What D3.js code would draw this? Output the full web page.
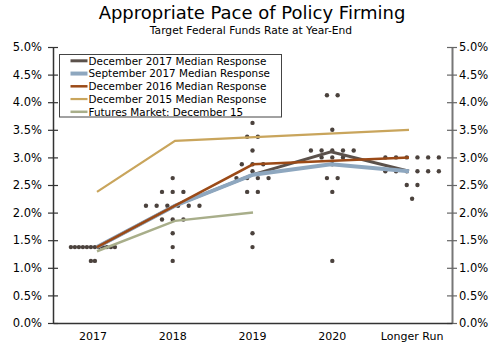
<!DOCTYPE html>
<html>
<head>
<meta charset="utf-8">
<script src="https://cdn.jsdelivr.net/npm/d3@7"></script>
<style>
    body { margin: 0; background: #fff; }
    #chart { width: 500px; height: 351px; }
    text { font-family: "DejaVu Sans", Verdana, sans-serif; fill: #000; }
</style>
</head>
<body>
<div id="chart"></div>
<script>
const categories = ["2017", "2018", "2019", "2020", "Longer Run"];

// medians by year, null where the projection has no point
const dec2017Median = [1.375, 2.125, 2.6875, 3.1, 2.75];
const sep2017Median = [1.375, 2.125, 2.6875, 2.875, 2.75];
const dec2016Median = [1.375, 2.125, 2.875, null, 3.0];
const dec2015Median = [2.375, 3.3, null, null, 3.5];
const futuresDec15 = [1.3, 1.85, 2.0, null, null];

// December 2017 dots: [rate, participants]
const dots2017 = [[1.375, 12], [1.125, 2]];
const dots2018 = [[2.625, 1], [2.375, 3], [2.125, 6], [1.875, 3], [1.625, 1], [1.375, 1], [1.125, 1]];
const dots2019 = [[3.625, 1], [3.375, 2], [3.125, 1], [2.875, 3], [2.75, 1], [2.625, 4], [2.375, 2], [1.625, 1], [1.375, 1]];
const dots2020 = [[4.125, 2], [3.5, 1], [3.125, 5], [3.0, 3], [2.875, 1], [2.625, 2], [2.375, 1], [1.125, 1]];
const dotsLongerRun = [[3.0, 6], [2.75, 6], [2.5, 2], [2.25, 1]];

const yTicks = [0, 0.5, 1, 1.5, 2, 2.5, 3, 3.5, 4, 4.5, 5];

class DotPlotChart {

    constructor(parentElement) {
        this.parentElement = parentElement;
        this.initVis();
    }

    initVis() {
        let vis = this;

        vis.margin = {top: 47, right: 48, bottom: 28, left: 53};
        vis.width = 500 - vis.margin.left - vis.margin.right;
        vis.height = 351 - vis.margin.top - vis.margin.bottom;

        vis.svg = d3.select("#" + vis.parentElement)
                    .append("svg")
                    .attr("width", 500)
                    .attr("height", 351);

        vis.svg.append("text")
            .attr("x", 252).attr("y", 19)
            .attr("text-anchor", "middle")
            .style("font-size", "18px")
            .text("Appropriate Pace of Policy Firming");

        vis.svg.append("text")
            .attr("x", 251).attr("y", 34)
            .attr("text-anchor", "middle")
            .style("font-size", "10.7px")
            .text("Target Federal Funds Rate at Year-End");

        vis.g = vis.svg.append("g")
            .attr("transform", `translate(${vis.margin.left}, ${vis.margin.top})`);

        vis.x = d3.scaleBand().domain(categories).range([0, vis.width]);
        // lines sit a bit inside the columns
        vis.xLine = d3.scalePoint().domain(categories).range([44, 356]);
        vis.y = d3.scaleLinear().domain([0, 5]).range([vis.height, 0]);

        vis.series = [
            {name: "December 2017 Median Response", values: dec2017Median, color: "#5b514b", width: 3},
            {name: "September 2017 Median Response", values: sep2017Median, color: "#8ea7bf", width: 4},
            {name: "December 2016 Median Response", values: dec2016Median, color: "#9b4a17", width: 2.5},
            {name: "December 2015 Median Response", values: dec2015Median, color: "#c9a55c", width: 2.2},
            {name: "Futures Market: December 15", values: futuresDec15, color: "#a8ae8a", width: 2.5}
        ];

        vis.dotColumns = [
            {cat: "2017", rows: dots2017, step: 4},
            {cat: "2018", rows: dots2018, step: 10.7},
            {cat: "2019", rows: dots2019, step: 10.7},
            {cat: "2020", rows: dots2020, step: 10.7},
            {cat: "Longer Run", rows: dotsLongerRun, step: 10.7}
        ];

        vis.wrangleData();
    }

    wrangleData() {
        let vis = this;

        vis.dots = [];
        vis.dotColumns.forEach(function(col) {
            col.rows.forEach(function(r) {
                for (let i = 0; i < r[1]; i++) {
                    vis.dots.push({cat: col.cat, rate: r[0], off: (i - (r[1] - 1) / 2) * col.step});
                }
            });
        });

        vis.lineData = vis.series.map(function(s) {
            return {
                s: s,
                pts: categories.map((c, i) => ({cat: c, v: s.values[i]})).filter(d => d.v !== null)
            };
        });

        vis.updateVis();
    }

    updateVis() {
        let vis = this;

        // axes
        let yLeft = d3.axisLeft(vis.y).tickValues(yTicks).tickSizeInner(5).tickSizeOuter(0).tickPadding(6)
            .tickFormat(d => d3.format(".1f")(d) + "%");
        let yRight = d3.axisRight(vis.y).tickValues(yTicks).tickSizeInner(5).tickSizeOuter(0).tickPadding(2)
            .tickFormat(d => d3.format(".1f")(d) + "%");

        let gl = vis.g.append("g").call(yLeft);
        gl.selectAll(".tick line").attr("x1", 5).attr("stroke", "#333").attr("stroke-width", 1.2);
        gl.select(".domain").attr("stroke", "#333").attr("stroke-width", 1.5);
        gl.selectAll("text").style("font-size", "11.5px").attr("fill", "#000");

        let gr = vis.g.append("g").attr("transform", `translate(${vis.width}, 0)`).call(yRight);
        gr.selectAll(".tick line").attr("x1", -5).attr("stroke", "#666").attr("stroke-width", 1.2);
        gr.select(".domain").attr("stroke", "#777").attr("stroke-width", 2);
        gr.selectAll("text").style("font-size", "11.5px").attr("fill", "#000");

        let gx = vis.g.append("g").attr("transform", `translate(0, ${vis.height})`)
            .call(d3.axisBottom(vis.x).tickSize(0).tickPadding(9));
        gx.select(".domain").attr("stroke", "#333").attr("stroke-width", 1.5);
        gx.selectAll("text").style("font-size", "11px").attr("fill", "#000");

        // dots
        vis.g.selectAll(".dot")
            .data(vis.dots)
            .enter()
            .append("circle")
            .attr("class", "dot")
            .attr("cx", d => vis.x(d.cat) + vis.x.bandwidth() / 2 + d.off)
            .attr("cy", d => vis.y(d.rate))
            .attr("r", 2.2)
            .attr("fill", "#4b423d");

        // median lines
        let line = d3.line()
            .x(d => vis.xLine(d.cat))
            .y(d => vis.y(d.v));

        vis.g.selectAll(".median")
            .data(vis.lineData)
            .enter()
            .append("path")
            .attr("class", "median")
            .attr("d", d => line(d.pts))
            .attr("fill", "none")
            .attr("stroke", d => d.s.color)
            .attr("stroke-width", d => d.s.width);

        // legend
        let lg = vis.svg.append("g").attr("transform", "translate(59.5, 54.5)");
        lg.append("rect")
            .attr("width", 222).attr("height", 62.5)
            .attr("fill", "#fff")
            .attr("stroke", "#444").attr("stroke-width", 1);

        let item = lg.selectAll(".item")
            .data(vis.series)
            .enter()
            .append("g")
            .attr("transform", (d, i) => `translate(0, ${6.3 + i * 12.75})`);

        item.append("line")
            .attr("x1", 11).attr("x2", 28)
            .attr("stroke", d => d.color)
            .attr("stroke-width", d => d.width);

        item.append("text")
            .attr("x", 29).attr("y", 3.8)
            .style("font-size", "10.4px")
            .text(d => d.name);
    }
}

let chart = new DotPlotChart("chart");
</script>
</body>
</html>
